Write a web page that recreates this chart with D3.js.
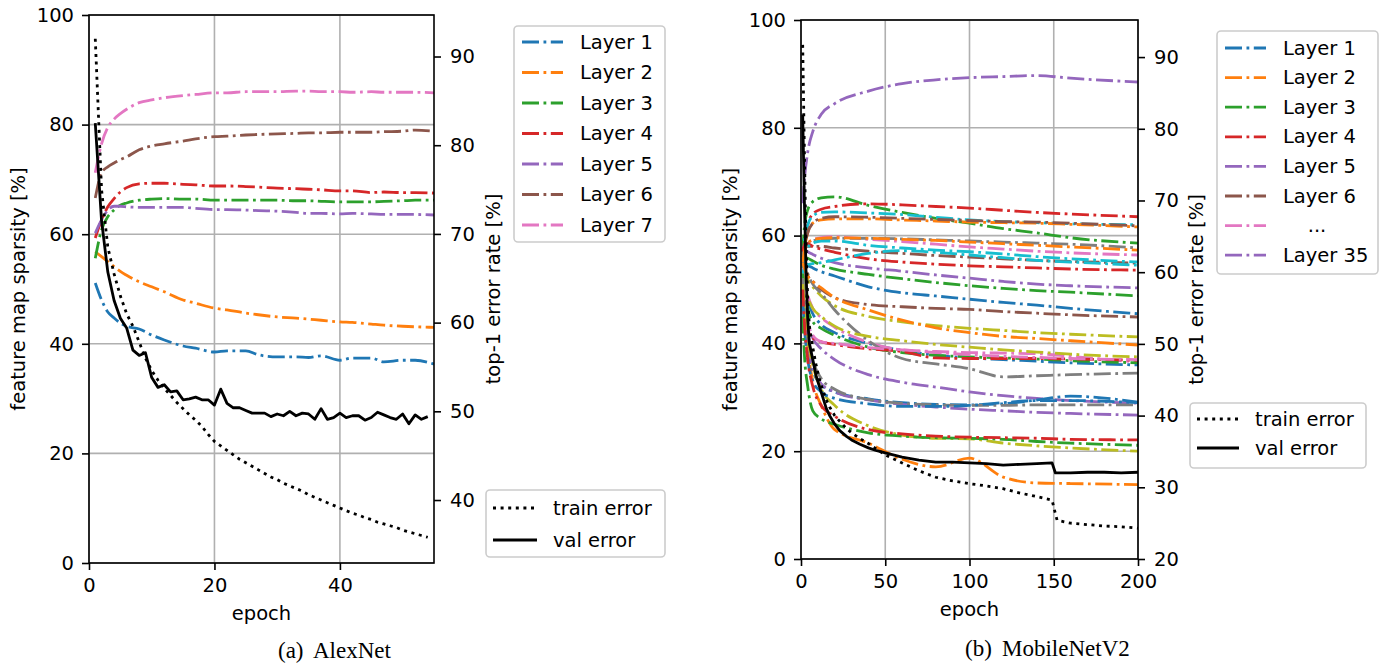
<!DOCTYPE html>
<html>
<head>
<meta charset="utf-8">
<script src="https://cdn.jsdelivr.net/npm/d3@7"></script>
<style>
  body { margin: 0; background: #fff; }
  svg { display: block; font-family: "DejaVu Sans", sans-serif; }
</style>
</head>
<body>
<svg id="chart" width="1392" height="669"></svg>
<script>
// ---------- AlexNet (a) ----------
let alexEpochs = [1,2,3,4,5,6,8,10,12,15,17,20,22,25,27,30,33,35,37,40,42,45,47,50,52,55];
let alexSparsity = [
  [51.1,48.0,45.8,44.7,43.8,43.2,42.7,41.6,40.7,39.6,39.2,38.5,38.7,38.7,38.0,37.6,37.6,37.5,37.8,37.0,37.4,37.4,36.7,37.0,37.0,36.3],
  [56.8,55.9,55.0,54.1,53.2,52.5,51.3,50.4,49.5,48.0,47.4,46.5,46.2,45.6,45.3,44.9,44.7,44.5,44.3,44.0,43.9,43.6,43.4,43.2,43.1,43.0],
  [55.6,60.8,63.2,64.4,65.3,65.7,66.2,66.4,66.5,66.4,66.4,66.2,66.2,66.2,66.2,66.2,66.1,66.1,66.0,65.9,65.9,65.9,66.0,66.1,66.2,66.2],
  [59.3,62.6,65.0,66.5,67.7,68.5,69.2,69.3,69.3,69.1,69.0,68.8,68.8,68.7,68.6,68.4,68.3,68.2,68.1,67.9,67.9,67.6,67.7,67.6,67.6,67.5],
  [60.2,62.6,64.4,65.1,65.1,65.0,64.9,64.9,64.9,64.9,64.7,64.5,64.5,64.4,64.3,64.2,64.0,63.8,63.8,63.7,63.8,63.7,63.6,63.6,63.6,63.5],
  [66.6,71.2,72.3,73.0,73.6,74.1,75.4,76.1,76.5,77.0,77.4,77.8,77.9,78.1,78.2,78.3,78.4,78.5,78.5,78.6,78.6,78.6,78.7,78.8,79.0,78.8],
  [71.2,76.5,79.5,81.0,82.0,82.8,84.0,84.5,84.9,85.3,85.5,85.8,85.8,86.0,86.0,86.0,86.1,86.1,86.0,86.0,85.9,86.0,85.9,85.9,85.9,85.8]
];
let alexLayerNames = ["Layer 1","Layer 2","Layer 3","Layer 4","Layer 5","Layer 6","Layer 7"];
let alexErrEpochs = d3.range(1, 55);
let alexVal = [82.5,71.5,65.7,62.5,60.5,59.4,56.9,56.3,56.6,53.8,52.7,53.0,52.2,52.3,51.3,51.4,51.6,51.3,51.3,50.7,
  52.5,50.9,50.4,50.4,50.1,49.8,49.8,49.8,49.4,49.7,49.5,50.0,49.5,49.8,49.7,49.1,50.3,49.1,49.3,49.8,
  49.3,49.5,49.5,49.0,49.3,49.9,49.6,49.3,49.1,49.7,48.6,49.6,49.1,49.4];
let alexTrain = [92.0,75.0,68.5,65.5,63.0,61.0,59.6,57.8,56.0,54.6,53.5,52.6,51.8,51.0,50.3,49.6,49.0,48.3,47.4,46.6,
  46.1,45.6,45.1,44.6,44.2,43.8,43.4,43.0,42.6,42.3,41.9,41.6,41.3,41.0,40.6,40.3,40.0,39.7,39.4,39.1,
  38.8,38.5,38.3,38.0,37.8,37.5,37.3,37.1,36.9,36.6,36.4,36.2,36.0,35.8];

// ---------- MobileNetV2 (b) ----------
let mobileEpochs = [1,2,4,7,12,20,40,60,80,100,120,140,160,200];
let mobileSparsity = [
  [55,55,54.5,54,53.3,52.5,50.5,49.4,48.8,48.2,47.6,47.1,46.5,45.5],
  [52,47,39,33,28.5,24,21.5,18.5,17.1,18.7,15.2,14.1,14.0,13.8],
  [57,61.5,64.8,66.3,67,67.2,65.6,64.3,63.2,62.3,61.3,60.5,59.6,58.6],
  [54,58,62,64,64.9,65.4,65.9,65.7,65.4,65.1,64.7,64.3,64,63.5],
  [58,57.5,57,56.5,55.8,55,54,53.4,52.7,52.1,51.5,51,50.7,50.3],
  [56,57.5,58,58,58,57.7,57.1,56.7,56.3,56,55.7,55.4,55.2,54.9],
  [55,57,58.5,59.2,59.6,59.8,59.3,58.9,58.4,57.9,57.5,57.1,56.8,56.4],
  [56,57.5,58.5,59,59.3,59.5,59.5,59.4,59.2,59,58.8,58.6,58.4,57.7],
  [54,53,51.8,50.5,48.8,47,45,44,43.3,42.8,42.4,42,41.7,41.2],
  [55,59,62,63.6,64.3,64.4,64.2,63.9,63.4,62.9,62.6,62.4,62.2,62],
  [53,51,48,45.5,43.5,42,40,38.7,37.8,37.3,37,36.7,36.4,36],
  [53,57,60.5,62.3,62.9,63.1,63.1,62.9,62.7,62.5,62.4,62.3,62.1,61.6],
  [56,56,55.8,55.3,54.5,53.8,52.8,52,51.3,50.7,50.2,49.8,49.5,48.8],
  [57,58.3,58.5,58,57.5,56.9,55.7,55.1,54.7,54.4,54.2,54,53.8,53.6],
  [52,48,44,41,39,37,34.2,32.8,31.9,31,30.3,29.8,29.4,28.9],
  [54,57.5,60.5,62.3,63.2,63.5,63.4,63.2,63,62.8,62.6,62.5,62.3,61.8],
  [54,52,49,46.5,44.8,43,40.2,38.8,38.5,38.3,38.2,38.1,37.6,36.5],
  [57,55.5,53,51,49.3,46.2,40.5,37.2,36.2,35.3,33.8,34,34.2,34.5],
  [53,51,48.5,46.5,45,43.2,41.3,40.5,39.8,39.3,38.8,38.4,38,37.5],
  [54,56,57.8,58.6,59,59,58.2,57.7,57.3,57,56.6,56.1,55.7,55.1],
  [50,46,40,35,32.3,31,29.7,29,28.7,28.6,28.8,29.5,30.2,29.1],
  [55,57,58.5,59.2,59.5,59.6,59.5,59.3,59.1,58.8,58.5,58.2,57.9,57.3],
  [53,50,46.5,44,42.8,41.5,39.3,38.3,37.8,37.5,37.3,37.1,36.8,36.4],
  [50,46,42.5,41,40.3,39.8,39,38.5,37.3,37.2,37.2,37.2,37.1,36.9],
  [50,46,40,35.5,32.5,31,29.5,28.7,28.2,27.8,27.5,27.2,27,26.7],
  [55,54,52.5,51.5,50,48.5,47.2,46.8,46.5,46.3,45.9,45.6,45.3,44.9],
  [52,48,44,41.5,40.3,40,39.2,38.8,38.3,37.9,37.6,37.4,37.2,37],
  [52,48,42,37,33.5,31.5,29.6,28.9,28.6,28.5,28.5,28.6,28.6,28.6],
  [51,47,41,36,31.5,28.5,24.7,23,22.4,22.3,21.5,21,20.6,20],
  [53,54,54.6,54.8,55,55.5,56.7,57.2,56.9,56.4,55.9,55.4,55.1,54.5],
  [48,43,37,33,31,29.8,28.8,28.3,28.3,28.5,29,29.4,29.4,29],
  [55,54,52.5,51.5,50.3,48.5,46.2,44.3,42.9,42,41.3,40.9,40.5,39.7],
  [45,38,32,27.5,26,25,23.4,22.8,22.5,22.4,22.2,21.8,21.5,21.1],
  [50,44,37,32,28.5,26.5,24,23.2,22.8,22.6,22.5,22.4,22.2,22.1],
  [66,70.3,75.5,79.3,82.5,84.5,86.8,88.2,88.9,89.3,89.5,89.7,89.2,88.5]
];
// legend rows: [label, layer index used for colour]
let mobileLegend = [["Layer 1",0],["Layer 2",1],["Layer 3",2],["Layer 4",3],["Layer 5",4],["Layer 6",5],["...",6],["Layer 35",34]];
let mobileErrEpochs = [1,2,3,4,5,7,9,11,13,15,17,20,23,27,30,35,40,45,50,60,70,80,90,100,110,120,130,140,149,151,152,160,170,180,190,200];
let mobileVal = [82,70,60,53.3,50,47.8,45.5,44,42.5,41,40,38.8,37.9,37.1,36.6,36,35.5,35.1,34.8,34.2,
  33.8,33.5,33.5,33.4,33.3,33.1,33.2,33.3,33.4,32.0,32.0,32.0,32.1,32.1,32.0,32.1];
let mobileTrain = [91.7,77,64,56,52.5,49.5,47,45,43.5,42.2,41.2,40,39.2,38.2,37.6,36.8,36.1,35.3,34.5,33.4,
  32.3,31.4,30.9,30.5,30.2,29.8,29.2,28.7,28.2,26.3,25.4,25.0,24.8,24.6,24.5,24.3];

// ---------- styling ----------
let tab10 = ["#1f77b4","#ff7f0e","#2ca02c","#d62728","#9467bd","#8c564b","#e377c2","#7f7f7f","#bcbd22","#17becf"];
let DASHDOT = "17,4.5,2.8,4.5";
let DOTTED = "3,4.6";
let LW = 2.8;
let FS = 19.5;

let svg = d3.select("#chart");

function drawPanel(p) {
  let x = d3.scaleLinear().domain(p.xDomain).range([p.left, p.right]);
  let y = d3.scaleLinear().domain([0, 100]).range([p.bottom, p.top]);
  let y2 = d3.scaleLinear().domain(p.errDomain).range([p.bottom, p.top]);

  let g = svg.append("g");

  svg.append("clipPath").attr("id", "clip" + p.id)
    .append("rect")
    .attr("x", p.left).attr("y", p.top)
    .attr("width", p.right - p.left).attr("height", p.bottom - p.top);

  // grid
  let grid = g.append("g").attr("stroke", "#b0b0b0").attr("stroke-width", 1.6);
  grid.selectAll(".gx").data(p.xTicks).enter().append("line")
    .attr("x1", d => x(d)).attr("x2", d => x(d))
    .attr("y1", p.top).attr("y2", p.bottom);
  grid.selectAll(".gy").data([0,20,40,60,80,100]).enter().append("line")
    .attr("x1", p.left).attr("x2", p.right)
    .attr("y1", d => y(d)).attr("y2", d => y(d));

  // sparsity lines
  let layerLine = d3.line()
    .x((d, i) => x(p.layerEpochs[i]))
    .y(d => y(d))
    .curve(d3.curveMonotoneX);

  let plot = g.append("g").attr("clip-path", `url(#clip${p.id})`);
  plot.selectAll(".layer").data(p.layers).enter().append("path")
    .attr("d", layerLine)
    .attr("fill", "none")
    .attr("stroke", (d, i) => tab10[i % 10])
    .attr("stroke-width", LW)
    .attr("stroke-dasharray", DASHDOT);

  // error lines (twin axis, drawn on top)
  let errLine = d3.line()
    .x((d, i) => x(p.errEpochs[i]))
    .y(d => y2(d));

  plot.append("path").attr("d", errLine(p.train))
    .attr("fill", "none").attr("stroke", "#000")
    .attr("stroke-width", LW).attr("stroke-dasharray", DOTTED);
  plot.append("path").attr("d", errLine(p.val))
    .attr("fill", "none").attr("stroke", "#000")
    .attr("stroke-width", LW).attr("stroke-linejoin", "round");

  // axes
  function styleAxis(sel) {
    sel.attr("font-family", "DejaVu Sans").attr("font-size", FS);
    sel.select(".domain").remove();
    sel.selectAll(".tick line").attr("stroke", "#000").attr("stroke-width", 1.6);
    sel.selectAll(".tick text").attr("fill", "#000");
  }
  g.append("g").attr("transform", `translate(0,${p.bottom})`)
    .call(d3.axisBottom(x).tickValues(p.xTicks).tickSize(7).tickPadding(8).tickFormat(d3.format("d")))
    .call(styleAxis);
  g.append("g").attr("transform", `translate(${p.left},0)`)
    .call(d3.axisLeft(y).tickValues([0,20,40,60,80,100]).tickSize(7).tickPadding(8))
    .call(styleAxis);
  g.append("g").attr("transform", `translate(${p.right},0)`)
    .call(d3.axisRight(y2).tickValues(p.errTicks).tickSize(7).tickPadding(9))
    .call(styleAxis);

  // spines
  g.append("rect")
    .attr("x", p.left).attr("y", p.top)
    .attr("width", p.right - p.left).attr("height", p.bottom - p.top)
    .attr("fill", "none").attr("stroke", "#000").attr("stroke-width", 1.6);

  // axis labels
  g.append("text").attr("x", (p.left + p.right) / 2).attr("y", p.bottom + 57)
    .attr("text-anchor", "middle").attr("font-size", FS).text("epoch");
  g.append("text")
    .attr("transform", `translate(${p.yLabelX},${(p.top + p.bottom) / 2}) rotate(-90)`)
    .attr("text-anchor", "middle").attr("dominant-baseline", "central")
    .attr("font-size", FS).text("feature map sparsity [%]");
  g.append("text")
    .attr("transform", `translate(${p.y2LabelX},${(p.top + p.bottom) / 2}) rotate(-90)`)
    .attr("text-anchor", "middle").attr("dominant-baseline", "central")
    .attr("font-size", FS).text("top-1 error rate [%]");

  // legends
  drawLegend(p.legendBox, p.legendRows);
  drawLegend(p.errBox, p.errRows);

  // caption
  let cap = g.append("text").attr("y", p.captionY)
    .attr("font-family", "Liberation Serif, Times New Roman, serif").attr("font-size", 23);
  cap.append("tspan").attr("x", p.captionX[0]).text(p.caption[0]);
  cap.append("tspan").attr("x", p.captionX[1]).text(p.caption[1]);
}

function drawLegend(box, rows) {
  let lg = svg.append("g");
  lg.append("rect")
    .attr("x", box.x).attr("y", box.y).attr("width", box.w).attr("height", box.h)
    .attr("rx", 4).attr("fill", "#fff").attr("fill-opacity", 0.8)
    .attr("stroke", "#cccccc").attr("stroke-width", 1.6);
  rows.forEach((r, i) => {
    let yy = box.firstY + i * box.step;
    lg.append("line")
      .attr("x1", box.lineX[0]).attr("x2", box.lineX[1])
      .attr("y1", yy).attr("y2", yy)
      .attr("stroke", r.color).attr("stroke-width", LW)
      .attr("stroke-dasharray", r.dash);
    lg.append("text")
      .attr("x", r.center ? box.centerX : box.textX).attr("y", yy)
      .attr("text-anchor", r.center ? "middle" : "start")
      .attr("dominant-baseline", "central")
      .attr("font-size", FS).text(r.label);
  });
}

drawPanel({
  id: "a", left: 89, right: 434, top: 15, bottom: 563,
  xDomain: [0, 55], xTicks: [0, 20, 40],
  errDomain: [32.9, 94.68], errTicks: [40, 50, 60, 70, 80, 90],
  layerEpochs: alexEpochs, layers: alexSparsity,
  errEpochs: alexErrEpochs, train: alexTrain, val: alexVal,
  yLabelX: 18, y2LabelX: 493,
  legendBox: { x: 514, y: 26, w: 151, h: 216, firstY: 42, step: 30.5, lineX: [522, 563], textX: 580 },
  legendRows: alexLayerNames.map((n, i) => ({ label: n, color: tab10[i], dash: DASHDOT })),
  errBox: { x: 486, y: 490, w: 179, h: 67, firstY: 508, step: 32, lineX: [493, 537], textX: 553 },
  errRows: [{ label: "train error", color: "#000", dash: DOTTED }, { label: "val error", color: "#000", dash: null }],
  caption: ["(a)", "AlexNet"], captionX: [278, 313], captionY: 658
});

drawPanel({
  id: "b", left: 801, right: 1138, top: 20, bottom: 559,
  xDomain: [0, 200], xTicks: [0, 50, 100, 150, 200],
  errDomain: [20, 95.17], errTicks: [20, 30, 40, 50, 60, 70, 80, 90],
  layerEpochs: mobileEpochs, layers: mobileSparsity,
  errEpochs: mobileErrEpochs, train: mobileTrain, val: mobileVal,
  yLabelX: 730, y2LabelX: 1196,
  legendBox: { x: 1217, y: 31, w: 161, h: 243, firstY: 48, step: 29.6, lineX: [1225, 1266], textX: 1283, centerX: 1317 },
  legendRows: mobileLegend.map(r => ({ label: r[0], color: tab10[r[1] % 10], dash: DASHDOT, center: r[0] === "..." })),
  errBox: { x: 1190, y: 403, w: 176, h: 65, firstY: 419, step: 29, lineX: [1197, 1239], textX: 1255 },
  errRows: [{ label: "train error", color: "#000", dash: DOTTED }, { label: "val error", color: "#000", dash: null }],
  caption: ["(b)", "MobileNetV2"], captionX: [965, 1002], captionY: 656
});
</script>
</body>
</html>
